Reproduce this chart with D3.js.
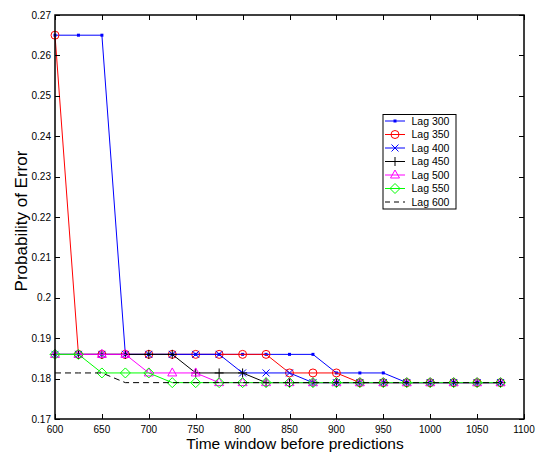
<!DOCTYPE html>
<html><head><meta charset="utf-8">
<script src="https://cdn.jsdelivr.net/npm/d3@7"></script>
<style>body{margin:0;background:#fff}svg{display:block}text{font-family:"Liberation Sans",Arial,sans-serif}</style>
</head><body><svg id="c" width="548" height="457"></svg>
<script>
const xValues = [600,625,650,675,700,725,750,775,800,825,850,875,900,925,950,975,1000,1025,1050,1075];
const lag300 = [0.265,0.265,0.265,0.186,0.186,0.186,0.186,0.186,0.186,0.186,0.186,0.186,0.1814,0.1814,0.1814,0.179,0.179,0.179,0.179,0.179];
const lag350 = [0.265,0.186,0.186,0.186,0.186,0.186,0.186,0.186,0.186,0.186,0.1814,0.1814,0.1814,0.179,0.179,0.179,0.179,0.179,0.179,0.179];
const lag400 = [0.186,0.186,0.186,0.186,0.186,0.186,0.186,0.186,0.1814,0.1814,0.1814,0.179,0.179,0.179,0.179,0.179,0.179,0.179,0.179,0.179];
const lag450 = [0.186,0.186,0.186,0.186,0.186,0.186,0.1814,0.1814,0.1814,0.179,0.179,0.179,0.179,0.179,0.179,0.179,0.179,0.179,0.179,0.179];
const lag500 = [0.186,0.186,0.186,0.186,0.1814,0.1814,0.1814,0.179,0.179,0.179,0.179,0.179,0.179,0.179,0.179,0.179,0.179,0.179,0.179,0.179];
const lag550 = [0.186,0.186,0.1814,0.1814,0.1814,0.179,0.179,0.179,0.179,0.179,0.179,0.179,0.179,0.179,0.179,0.179,0.179,0.179,0.179,0.179];
const lag600 = [0.1814,0.1814,0.1814,0.179,0.179,0.179,0.179,0.179,0.179,0.179,0.179,0.179,0.179,0.179,0.179,0.179,0.179,0.179,0.179,0.179];
const seriesNames = ["Lag 300","Lag 350","Lag 400","Lag 450","Lag 500","Lag 550","Lag 600"];
const seriesColors = ["#0000ff","#ff0000","#0000ff","#000000","#ff00ff","#00ff00","#000000"];
const seriesMarkers = ["dot","circle","x","plus","triangle","diamond","none"];
const xTicks = [600,650,700,750,800,850,900,950,1000,1050,1100];
const yTicks = [0.17,0.18,0.19,0.2,0.21,0.22,0.23,0.24,0.25,0.26,0.27];
const xLabel = "Time window before predictions";
const yLabel = "Probability of Error";
const allSeries = [lag300,lag350,lag400,lag450,lag500,lag550,lag600];

const L=55,R=524,T=15,B=419;
const svg=d3.select("#c");
const x=d3.scaleLinear().domain([600,1100]).range([L,R]);
const y=d3.scaleLinear().domain([0.17,0.27]).range([B,T]);

function marker(g,type,color,cx,cy){
  if(type==="dot"){g.append("rect").attr("x",cx-1.5).attr("y",cy-1.5).attr("width",3).attr("height",3).attr("fill",color);}
  else if(type==="circle"){g.append("circle").attr("cx",cx).attr("cy",cy).attr("r",4).attr("fill","none").attr("stroke",color).attr("stroke-width",1);}
  else if(type==="x"){g.append("path").attr("d",`M${cx-3.5},${cy-3.5}L${cx+3.5},${cy+3.5}M${cx-3.5},${cy+3.5}L${cx+3.5},${cy-3.5}`).attr("stroke",color).attr("stroke-width",1).attr("fill","none");}
  else if(type==="plus"){g.append("path").attr("d",`M${cx-4.5},${cy}L${cx+4.5},${cy}M${cx},${cy-4.5}L${cx},${cy+4.5}`).attr("stroke",color).attr("stroke-width",1).attr("fill","none");}
  else if(type==="triangle"){g.append("path").attr("d",`M${cx},${cy-5}L${cx+4.5},${cy+3}L${cx-4.5},${cy+3}Z`).attr("stroke",color).attr("stroke-width",1).attr("fill","none");}
  else if(type==="diamond"){g.append("path").attr("d",`M${cx},${cy-5}L${cx+5},${cy}L${cx},${cy+5}L${cx-5},${cy}Z`).attr("stroke",color).attr("stroke-width",1).attr("fill","none");}
}

svg.append("rect").attr("x",L).attr("y",T).attr("width",R-L).attr("height",B-T).attr("fill","#fff");

const line=d3.line().x((d,i)=>x(xValues[i])).y(d=>y(d));
allSeries.forEach((s,k)=>{
  const g=svg.append("g");
  g.append("path").datum(s).attr("d",line).attr("fill","none").attr("stroke",seriesColors[k]).attr("stroke-width",1)
    .attr("stroke-dasharray",seriesMarkers[k]==="none"?"6,4":null);
  s.forEach((v,i)=>marker(g,seriesMarkers[k],seriesColors[k],x(xValues[i]),y(v)));
});

const ax=svg.append("g").attr("stroke","#000").attr("stroke-width",1);
xTicks.forEach(t=>{const px=Math.round(x(t))+0.5;
  ax.append("line").attr("x1",px).attr("x2",px).attr("y1",B).attr("y2",B-5);
  ax.append("line").attr("x1",px).attr("x2",px).attr("y1",T).attr("y2",T+5);});
yTicks.forEach(t=>{const py=Math.round(y(t))+0.5;
  ax.append("line").attr("x1",L).attr("x2",L+5).attr("y1",py).attr("y2",py);
  ax.append("line").attr("x1",R).attr("x2",R-5).attr("y1",py).attr("y2",py);});
svg.append("rect").attr("x",L).attr("y",T).attr("width",R-L).attr("height",B-T).attr("fill","none").attr("stroke","#000").attr("stroke-width",1.5);

svg.append("g").selectAll("text").data(xTicks).join("text").attr("x",d=>x(d)).attr("y",432.5).attr("text-anchor","middle").attr("font-size",10).text(d=>d);
svg.append("g").selectAll("text").data(yTicks).join("text").attr("x",51).attr("y",d=>y(d)+3.5).attr("text-anchor","end").attr("font-size",10).text(d=>d===0.2?"0.2":d3.format(".2f")(d));

svg.append("text").attr("x",295).attr("y",449).attr("text-anchor","middle").attr("font-size",15.5).text(xLabel);
svg.append("text").attr("transform","translate(27,221) rotate(-90)").attr("text-anchor","middle").attr("font-size",17).text(yLabel);

const lg=svg.append("g");
lg.append("rect").attr("x",383).attr("y",114.5).attr("width",73).attr("height",94.5).attr("fill","#fff").attr("stroke","#000").attr("stroke-width",1);
seriesNames.forEach((n,k)=>{
  const ly=121+k*13.5;
  lg.append("line").attr("x1",385).attr("x2",405).attr("y1",ly).attr("y2",ly).attr("stroke",seriesColors[k]).attr("stroke-width",1)
    .attr("stroke-dasharray",seriesMarkers[k]==="none"?"5,4":null);
  marker(lg,seriesMarkers[k],seriesColors[k],395,ly);
  lg.append("text").attr("x",411.5).attr("y",ly+3.7).attr("font-size",10.5).text(n);
});
</script></body></html>
